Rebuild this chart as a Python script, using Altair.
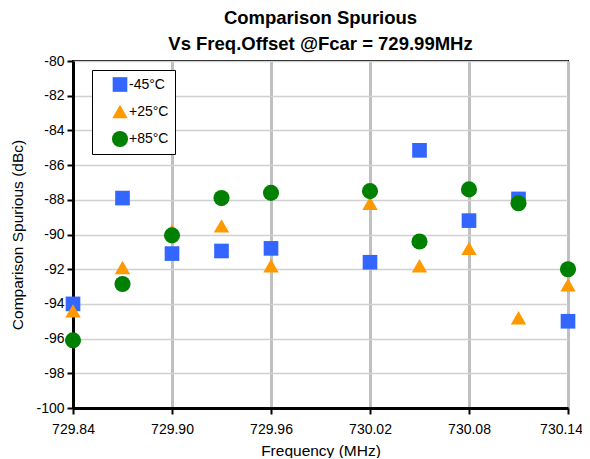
import altair as alt
import pandas as pd

freq = [729.84, 729.87, 729.90, 729.93, 729.96, 730.02, 730.05, 730.08, 730.11, 730.14]
m45 = [-94.0, -87.9, -91.1, -90.95, -90.8, -91.6, -85.15, -89.2, -87.95, -95.0]
p25 = [-94.4, -91.9, -89.8, -89.5, -91.8, -88.2, -91.8, -90.8, -94.8, -92.9]
p85 = [-96.1, -92.85, -90.05, -87.9, -87.6, -87.5, -90.4, -87.4, -88.2, -92.0]
series = ["-45°C", "+25°C", "+85°C"]
colors = ["#3366FF", "#FF9900", "#008000"]
shapes = ["square", "triangle-up", "circle"]
sizes = [215, 260, 225]
x_ticks = [729.84, 729.90, 729.96, 730.02, 730.08, 730.14]
y_ticks = list(range(-100, -79, 2))

rows = []
for name, vals in zip(series, [m45, p25, p85]):
    for f, v in zip(freq, vals):
        rows.append({"freq": f, "value": v, "series": name})
df = pd.DataFrame(rows)
df["ord"] = df["series"].map({s: i for i, s in enumerate(series)})

font = "Liberation Sans"
nb = "\u00a0"
pad = "\u2003" + nb * 2
label_expr = ("datum.label == '-45°C' ? '" + nb + "-45°C" + pad + "' : datum.label + '" + pad + "'")

chart = alt.Chart(df).mark_point(filled=True, opacity=1).encode(
    x=alt.X("freq:Q", title="Frequency (MHz)",
            scale=alt.Scale(domain=[729.84, 730.14], nice=False, zero=False),
            axis=alt.Axis(values=x_ticks, format=".2f", gridColor="#c0c0c0", gridWidth=3,
                          labelFlush=False, labelOverlap=False,
                          labelOffset={"condition": {"test": "datum.value > 730.1", "value": -7}, "value": 0},
                          domainColor="black", domainWidth=3, tickColor="black", tickWidth=2,
                          tickSize=6, labelFont=font, labelFontSize=14, labelColor="black",
                          titleFont=font, titleFontSize=15.5, titleFontWeight="normal",
                          titleColor="black", labelPadding=8, titlePadding=7)),
    y=alt.Y("value:Q", title="Comparison Spurious  (dBc)",
            scale=alt.Scale(domain=[-100, -80], nice=False, zero=False),
            axis=alt.Axis(values=y_ticks, gridColor="#d0d0d0", gridWidth=1.5,
                          labelExpr="'-' + abs(datum.value)", labelFlush=False,
                          domainColor="black", domainWidth=3, tickColor="black", tickWidth=2,
                          tickSize=6, labelFont=font, labelFontSize=14, labelColor="black",
                          titleFont=font, titleFontSize=15.5, titleFontWeight="normal",
                          titleColor="black", labelPadding=3, titlePadding=10)),
    color=alt.Color("series:N", scale=alt.Scale(domain=series, range=colors),
                    legend=alt.Legend(title=None, orient="none", legendX=19, legendY=9,
                                      fillColor="white", strokeColor="black", padding=6,
                                      labelFont=font, labelFontSize=14, labelColor="black",
                                      labelExpr=label_expr, symbolOffset=13, labelOffset=0,
                                      symbolSize=140, rowPadding=11, offset=0)),
    shape=alt.Shape("series:N", scale=alt.Scale(domain=series, range=shapes)),
    size=alt.Size("series:N", scale=alt.Scale(domain=series, range=sizes), legend=None),
    order=alt.Order("ord:Q"),
).properties(
    width=495, height=347,
    title=alt.Title(["Comparison Spurious", "Vs Freq.Offset @Fcar = 729.99MHz"],
                    font=font, fontSize=18.5, fontWeight="bold", color="black",
                    anchor="middle", lineHeight=26, offset=1),
    autosize=alt.AutoSizeParams(type="none"),
    padding={"left": 65, "top": 53, "right": 14, "bottom": 50},
).configure_view(stroke="black", strokeWidth=2)

chart.save("out.html", embed_options={"renderer": "svg", "actions": False})
